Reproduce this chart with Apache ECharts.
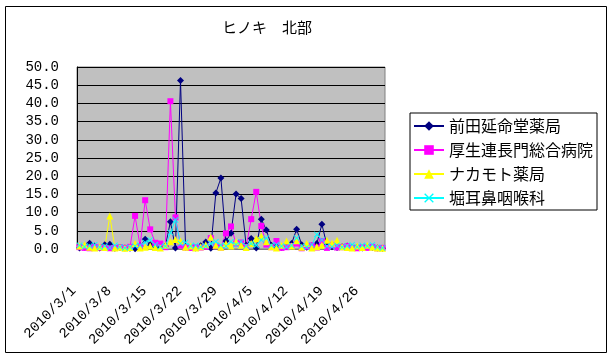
<!DOCTYPE html>
<html><head><meta charset="utf-8">
<script src="https://cdn.jsdelivr.net/npm/echarts@6/dist/echarts.min.js"></script>
<style>html,body{margin:0;padding:0;background:#fff}#c{width:612px;height:364px}</style>
</head><body><div id="c"></div>
<script>
// categories: 2010/3/1 .. 2010/4/30
const categories = [];
for (let d = 1; d <= 31; d++) categories.push('2010/3/' + d);
for (let d = 1; d <= 30; d++) categories.push('2010/4/' + d);

const seriesNames = ['前田延命堂薬局', '厚生連長門総合病院', 'ナカモト薬局', '堀耳鼻咽喉科'];

const maeda = [0.3,0.5,1.6,0.8,0.3,1.2,1.3,0.2,0.4,0.3,
  0.2,0.1,0.8,2.7,1.2,0.6,0.4,0.8,7.5,0.3,
  46.3,0.5,0.4,0.3,0.9,1.9,0.2,15.4,19.5,2.2,
  4.3,15.1,13.9,1.0,2.9,0.3,8.2,5.2,1.0,0.6,
  0.4,0.8,1.5,5.4,1.2,0.5,0.8,1.5,6.8,1.0,
  0.6,0.4,0.6,0.8,0.4,0.5,0.3,0.6,0.4,0.3,0.2];
const koseiren = [0.5,0.3,0.2,0.6,0.4,0.3,0.2,0.3,0.5,0.3,
  0.6,9.1,0.8,13.4,5.4,1.7,1.5,0.5,40.6,8.7,
  1.0,0.4,0.3,0.5,0.4,0.6,3.0,0.8,0.4,4.3,
  6.2,1.5,1.8,0.6,8.2,15.7,6.3,1.2,0.5,2.2,
  0.3,0.5,0.8,1.5,0.2,0.6,1.0,0.4,2.2,0.3,
  1.0,0.4,0.5,0.8,0.3,0.2,0.5,0.3,0.6,0.2,0.3];
const nakamoto = [0.8,1.2,0.5,0.3,0.6,0.4,9.1,0.3,0.5,0.2,
  0.4,1.5,0.3,0.5,0.8,0.4,0.3,1.0,2.0,2.6,
  2.2,0.5,0.8,0.3,0.6,1.2,3.2,1.0,0.5,1.5,
  0.8,2.0,1.0,0.4,1.5,2.8,3.5,2.0,0.6,0.3,
  1.0,2.2,0.8,2.3,0.5,1.5,0.3,0.6,1.0,2.4,
  1.6,2.4,0.6,0.4,0.3,0.8,0.4,1.0,0.5,0.3,0.2];
const hori = [1.0,0.6,0.8,1.2,0.5,0.8,0.4,1.0,0.6,0.3,
  0.5,0.8,1.0,1.8,2.5,1.2,0.6,0.8,4.5,8.0,
  1.5,1.8,0.8,1.0,0.6,0.8,1.5,2.0,1.0,0.8,
  2.0,1.2,2.0,0.8,1.5,1.0,2.5,3.0,1.0,1.2,
  0.8,0.6,1.0,3.0,0.8,0.5,1.2,4.0,2.5,0.8,
  0.6,1.0,0.5,0.8,1.2,0.6,1.0,0.8,1.2,0.5,0.3];

const yTicks = [0,5,10,15,20,25,30,35,40,45,50];

const colors = ['#000080', '#FF00FF', '#FFFF00', '#00FFFF'];
const symbols = ['diamond', 'rect', 'triangle',
  'path://M0,1L1,0L5,4L9,0L10,1L6,5L10,9L9,10L5,6L1,10L0,9L4,5Z'];
const sizes = [7, 6, 7, 6];
const values = [maeda, koseiren, nakamoto, hori];

const chart = echarts.init(document.getElementById('c'), null, {renderer: 'canvas'});
chart.setOption({
  animation: false,
  backgroundColor: '#fff',
  title: {
    text: 'ヒノキ　北部', left: 262, top: 15, textAlign: 'center',
    textStyle: {fontFamily: 'Noto Sans CJK JP', fontSize: 15, fontWeight: 'normal', color: '#000'}
  },
  graphic: [{
    type: 'rect', shape: {x: 5.5, y: 6.5, width: 601, height: 346},
    style: {fill: 'none', stroke: '#000', lineWidth: 1}, z: -1
  }],
  legend: {
    orient: 'vertical', left: 410, top: 113,
    width: 192, 
    borderColor: '#000', borderWidth: 1,
    padding: [5, 4, 4, 3],
    itemWidth: 30, itemHeight: 12, itemGap: 8,
    textStyle: {fontFamily: 'Noto Sans CJK JP', fontSize: 16, color: '#000'},
    data: seriesNames
  },
  grid: {left: 77, right: 227, top: 67, bottom: 115, show: true,
    backgroundColor: '#C0C0C0', borderColor: '#808080', borderWidth: 1},
  xAxis: {
    type: 'category', data: categories, boundaryGap: true,
    axisLine: {lineStyle: {color: '#808080'}},
    axisTick: {show: false},
    axisLabel: {interval: 6, rotate: 45, margin: 34, padding: [0, 8, 0, 0],
      fontFamily: 'Liberation Mono', fontSize: 14, color: '#000'}
  },
  yAxis: {
    type: 'value', min: 0, max: 50, interval: 5,
    axisLine: {show: true, lineStyle: {color: '#000'}},
    axisTick: {show: false},
    splitLine: {lineStyle: {color: '#000', width: 1}},
    axisLabel: {margin: 18, fontFamily: 'Liberation Mono', fontSize: 14, color: '#000',
      formatter: v => yTicks.includes(v) ? v.toFixed(1) : ''}
  },
  series: values.map((vals, i) => ({
    name: seriesNames[i], type: 'line', data: vals,
    symbol: symbols[i], symbolSize: sizes[i], showAllSymbol: true,
    itemStyle: {color: colors[i]},
    lineStyle: {color: colors[i], width: 1}
  }))
});
</script></body></html>
